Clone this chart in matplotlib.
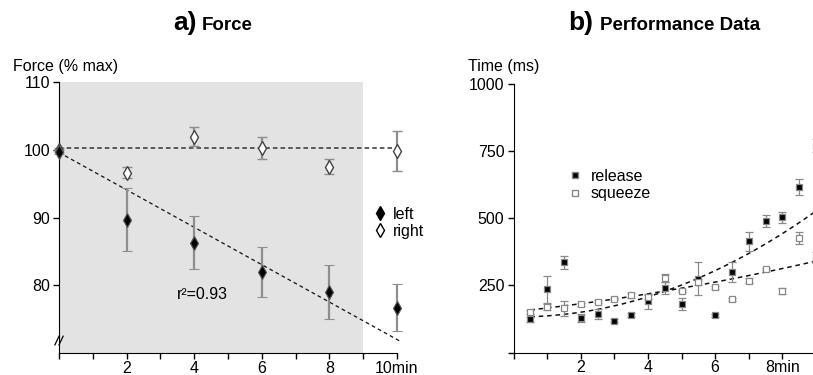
import matplotlib
matplotlib.use("Agg")
import matplotlib.pyplot as plt
import numpy as np
from matplotlib.lines import Line2D

plt.rcParams['font.family'] = ['Liberation Sans', 'DejaVu Sans']

## data - a) force
force_t = [0, 2, 4, 6, 8, 10]
left_force = [99.6, 89.7, 86.3, 81.9, 79.0, 76.7]
left_err = [0.3, 4.6, 3.9, 3.7, 4.0, 3.5]
right_force = [99.9, 96.6, 101.9, 100.3, 97.5, 99.8]
right_err = [0.3, 0.8, 1.4, 1.6, 1.1, 2.9]
ref_level = 100.2
reg_line = [99.6, -2.76]   # intercept, slope
r2_text = "r²=0.93"

## data - b) performance
perf_t = [0.5, 1, 1.5, 2, 2.5, 3, 3.5, 4, 4.5, 5, 5.5, 6, 6.5, 7, 7.5, 8, 8.5, 9]
release = [124, 235, 336, 129, 144, 119, 139, 192, 240, 181, 275, 139, 300, 414, 490, 504, 616, 770]
release_err = [10, 50, 23, 15, 20, 5, 8, 28, 22, 24, 62, 5, 38, 35, 22, 20, 28, 25]
squeeze = [151, 170, 166, 180, 190, 200, 213, 208, 276, 229, 263, 243, 198, 268, 311, 229, 426, 355]
squeeze_err = [8, 10, 28, 5, 5, 5, 8, 8, 15, 5, 10, 5, 5, 10, 5, 10, 22, 20]
release_trend = [5.026, -1.53, 133.5]   # quadratic trendline coefs
squeeze_trend = [0.85, 13.3, 152.1]

W, H = 813, 375
fig = plt.figure(figsize=(W/100, H/100), dpi=100)

# ---------------- a) Force
ax1 = fig.add_axes([59/W, 1-353/H, 343/W, 271/H])
ax1.set_xlim(0, 10.15)
ax1.set_ylim(70, 110)
ax1.axvspan(0, 9, color='#e3e3e3', zorder=0, lw=0)

ax1.plot([0, 10.1], [ref_level, ref_level], ls=(0, (3, 2)), color='#333333', lw=1.1, zorder=2)
xr = np.array([0, 10.1])
ax1.plot(xr, reg_line[0] + reg_line[1]*xr, ls=(0, (3, 2.5)), color='#111111', lw=0.9, zorder=2)

ax1.errorbar(force_t, right_force, yerr=right_err, fmt='d', color='#8e8e8e', ecolor='#8e8e8e',
             elinewidth=1.6, capsize=3.5, capthick=1.3, mfc='white', mec='#444444',
             ms=7, mew=1.0, zorder=3, clip_on=False)
ax1.errorbar(force_t, left_force, yerr=left_err, fmt='d', color='#8e8e8e', ecolor='#8e8e8e',
             elinewidth=1.6, capsize=3.5, capthick=1.3, mfc='black', mec='#555555',
             ms=7, mew=0.8, zorder=4, clip_on=False)
ax1.text(4.25, 78.7, r2_text, fontsize=11.5, ha='center', va='center')

h1 = [Line2D([], [], marker='d', ls='', mfc='black', mec='black', ms=7),
      Line2D([], [], marker='d', ls='', mfc='white', mec='black', ms=7, mew=1)]
ax1.legend(h1, ['left', 'right'], loc='upper left', bbox_to_anchor=(0.922, 0.54),
           frameon=False, fontsize=11.5, handlelength=0.6, handletextpad=0.5,
           borderpad=0, labelspacing=0.15, borderaxespad=0)

ax1.set_xticks(range(0, 11))
ax1.set_xticklabels(['', '', '2', '', '4', '', '6', '', '8', '', '10min'])
ax1.set_yticks([80, 90, 100, 110])
ax1.spines['top'].set_visible(False)
ax1.spines['right'].set_visible(False)
ax1.spines['bottom'].set_bounds(0, 10)
ax1.tick_params(direction='out', length=4.5, width=1, labelsize=11.5, pad=2)
ax1.tick_params(axis='x', pad=1)
# axis break marks
for dx in (0, 0.012):
    ax1.plot([-0.012 + dx, 0.0 + dx], [0.03, 0.062], transform=ax1.transAxes,
             color='black', lw=0.9, clip_on=False, zorder=5)

fig.text(13/W, 1-66/H, 'Force (% max)', fontsize=11.5, ha='left', va='center')
fig.text(197/W, 1-23/H, 'a)', fontsize=19, fontweight='bold', ha='right', va='center')
fig.text(202/W, 1-25/H, 'Force', fontsize=13.5, fontweight='bold', ha='left', va='center')

# ---------------- b) Performance
ax2 = fig.add_axes([513.5/W, 1-352.7/H, (W-513.5)/W, 269/H])
ax2.set_xlim(0, 8.91)
ax2.set_ylim(0, 1000)

xt = np.linspace(0.5, 9.2, 100)
ax2.plot(xt, np.polyval(release_trend, xt), ls=(0, (3, 2.5)), color='#111111', lw=1.1, zorder=2)
ax2.plot(xt, np.polyval(squeeze_trend, xt), ls=(0, (3, 2.5)), color='#111111', lw=1.1, zorder=2)

ax2.errorbar(perf_t, release, yerr=release_err, fmt='s', ecolor='#8a8a8a', elinewidth=0.9,
             capsize=3, capthick=0.9, mfc='black', mec='#888888', ms=5, mew=0.9, zorder=3)
ax2.errorbar(perf_t, squeeze, yerr=squeeze_err, fmt='s', ecolor='#8a8a8a', elinewidth=0.9,
             capsize=3, capthick=0.9, mfc='white', mec='#888888', ms=5, mew=0.9, zorder=3)

h2 = [Line2D([], [], marker='s', ls='', mfc='black', mec='#888888', ms=5),
      Line2D([], [], marker='s', ls='', mfc='white', mec='#888888', ms=5)]
ax2.legend(h2, ['release', 'squeeze'], loc='upper left', bbox_to_anchor=(0.188, 0.683),
           frameon=False, fontsize=11.5, handlelength=0.6, handletextpad=0.7,
           borderpad=0, labelspacing=0.15, borderaxespad=0)

ax2.set_xticks(range(0, 9))
ax2.set_xticklabels(['', '', '2', '', '4', '', '6', '', '8min'])
ax2.set_yticks([0, 250, 500, 750, 1000])
ax2.set_yticklabels(['', '250', '500', '750', '1000'])
ax2.spines['top'].set_visible(False)
ax2.spines['right'].set_visible(False)
ax2.tick_params(direction='out', length=4.5, width=1, labelsize=11.5, pad=2)
ax2.tick_params(axis='x', pad=1)

fig.text(468/W, 1-66/H, 'Time (ms)', fontsize=11.5, ha='left', va='center')
fig.text(593/W, 1-23/H, 'b)', fontsize=19, fontweight='bold', ha='right', va='center')
fig.text(600/W, 1-25/H, 'Performance Data', fontsize=13.5, fontweight='bold', ha='left', va='center')

fig.savefig('out.png', dpi=100)
